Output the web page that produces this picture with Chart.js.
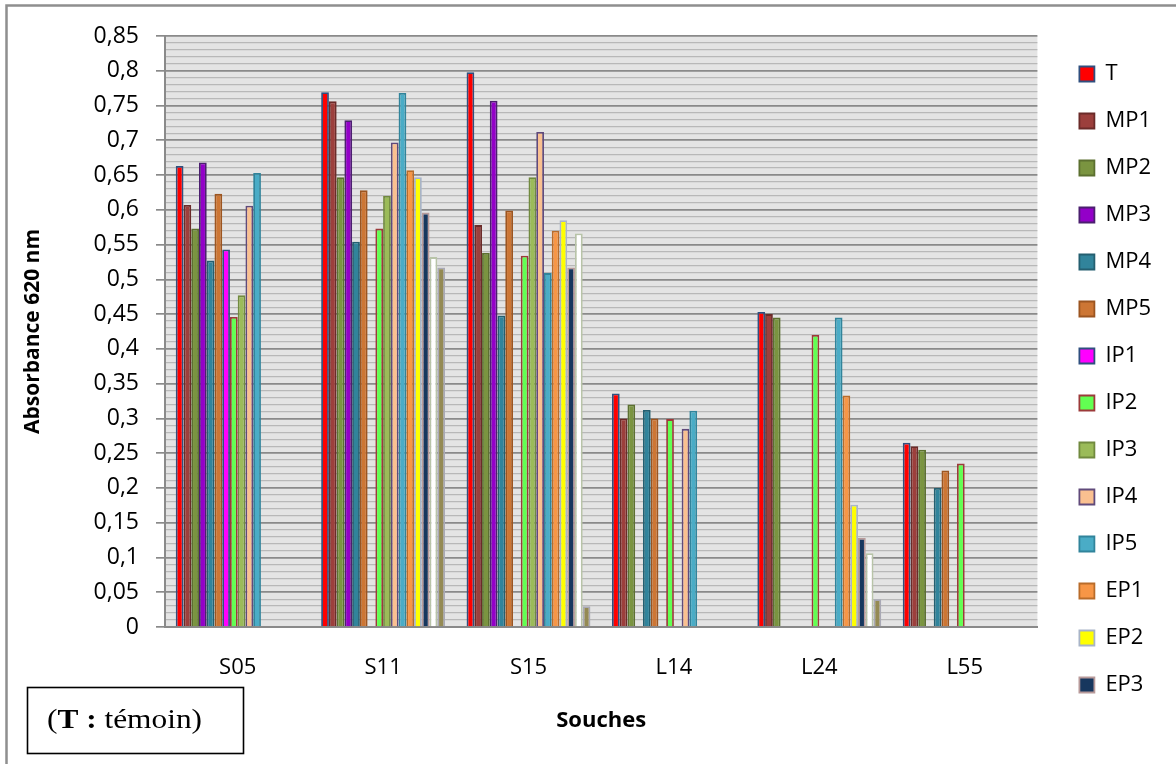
<!DOCTYPE html>
<html>
<head>
<meta charset="utf-8">
<title>Absorbance 620 nm par souche</title>
<script src="https://cdn.jsdelivr.net/npm/chart.js@4.4.1/dist/chart.umd.min.js"></script>
<style>
  html, body { margin: 0; padding: 0; background: #ffffff; }
  canvas { display: block; }
</style>
</head>
<body>
<canvas id="chart" width="1176" height="764"></canvas>
<script>
// Strains on the x axis
const souches = ['S05', 'S11', 'S15', 'L14', 'L24', 'L55'];

// Absorbance at 620 nm for each treatment (null = no bar)
const T   = [0.663, 0.769, 0.798, 0.336, 0.453, 0.265];
const MP1 = [0.607, 0.756, 0.578, 0.300, 0.450, 0.260];
const MP2 = [0.573, 0.647, 0.538, 0.320, 0.445, 0.255];
const MP3 = [0.668, 0.729, 0.757, null,  null,  null ];
const MP4 = [0.527, 0.554, 0.448, 0.312, null,  0.200];
const MP5 = [0.623, 0.628, 0.599, 0.300, null,  0.225];
const IP1 = [0.543, null,  null,  null,  null,  null ];
const IP2 = [0.446, 0.573, 0.534, 0.299, 0.420, 0.235];
const IP3 = [0.477, 0.620, 0.647, null,  null,  null ];
const IP4 = [0.606, 0.697, 0.712, 0.285, null,  null ];
const IP5 = [0.653, 0.768, 0.509, 0.311, 0.445, null ];
const EP1 = [null,  0.657, 0.570, null,  0.333, null ];
const EP2 = [null,  0.647, 0.585, null,  0.176, null ];
const EP3 = [null,  0.596, 0.517, null,  0.128, null ];
const EP4 = [null,  0.532, 0.566, null,  0.106, null ];
const EP5 = [null,  0.517, 0.030, null,  0.040, null ];

// Labels for the major y ticks (every 0.05)
const yTickLabels = ['0', '0,05', '0,1', '0,15', '0,2', '0,25', '0,3', '0,35', '0,4',
                     '0,45', '0,5', '0,55', '0,6', '0,65', '0,7', '0,75', '0,8', '0,85'];

const seriesNames = ['T', 'MP1', 'MP2', 'MP3', 'MP4', 'MP5', 'IP1', 'IP2', 'IP3',
                     'IP4', 'IP5', 'EP1', 'EP2', 'EP3', 'EP4', 'EP5'];
const seriesData = [T, MP1, MP2, MP3, MP4, MP5, IP1, IP2, IP3, IP4, IP5, EP1, EP2, EP3, EP4, EP5];

// Fill and outline colours, one per series
const fills = ['#ff0000', '#9c3f3c', '#7a9440', '#9300c8', '#31849b', '#cd7634', '#ff00ff', '#62ff52',
               '#9bbb59', '#fac090', '#4aacc6', '#f79646', '#ffff00', '#17375e', '#ffffff', '#948a54'];
const edges = ['#2f4f7f', '#6b2b29', '#5c7030', '#4b1f6f', '#245f70', '#9c5520', '#2f4f7f', '#9c3a3a',
               '#718a3f', '#604a7b', '#31849b', '#b96c2a', '#a8b4c8', '#b89a9a', '#b8c4a8', '#a9a9b5'];

// Only the first fourteen series are listed in the legend column
const legendCount = 14;

const isMajor = v => Math.round(v * 100) % 5 === 0;

Chart.defaults.font.family = "'Open Sans', sans-serif";
Chart.defaults.color = '#000000';

const plotBackground = {
  id: 'plotBackground',
  beforeDraw(chart) {
    const { ctx, chartArea: a } = chart;
    ctx.save();
    ctx.fillStyle = '#e4e4e4';
    ctx.fillRect(a.left, a.top, a.right - a.left, a.bottom - a.top);
    ctx.restore();
  }
};

const legendPlacement = {
  id: 'legendPlacement',
  afterLayout(chart) {
    const lg = chart.legend;
    const dx = chart.chartArea.right + 17 - lg.left;
    lg.left += dx; lg.right += dx;
    lg.top += 2; lg.bottom += 2;
  }
};

const frameAndNote = {
  id: 'frameAndNote',
  afterDraw(chart) {
    const ctx = chart.ctx;
    ctx.save();
    // outer frame
    ctx.strokeStyle = '#8f8f8f';
    ctx.lineWidth = 2.5;
    ctx.strokeRect(6.5, 5.5, 1200, 800);
    // note box
    ctx.strokeStyle = '#000000';
    ctx.lineWidth = 1.6;
    ctx.strokeRect(27.5, 687.5, 216, 66);
    ctx.translate(47, 721);
    ctx.scale(1.12, 1);
    ctx.fillStyle = '#000000';
    ctx.textBaseline = 'middle';
    const parts = [
      ['(', "28px 'Liberation Serif'"],
      ['T', "bold 28px 'Liberation Serif'"],
      [' : ', "bold 28px 'Liberation Serif'"],
      ['témoin)', "28px 'Liberation Serif'"]
    ];
    let x = 0;
    for (const [txt, font] of parts) {
      ctx.font = font;
      ctx.fillText(txt, x, 0);
      x += ctx.measureText(txt).width;
    }
    ctx.restore();
  }
};

new Chart(document.getElementById('chart'), {
  type: 'bar',
  data: {
    labels: souches,
    datasets: seriesNames.map((name, i) => ({
      label: name,
      data: seriesData[i],
      backgroundColor: fills[i],
      borderColor: edges[i],
      borderWidth: 1.8,
      categoryPercentage: 0.852,
      barPercentage: 1.0
    }))
  },
  options: {
    responsive: false,
    animation: false,
    layout: { padding: { top: 36, left: 10, right: 32, bottom: 29 } },
    plugins: {
      tooltip: { enabled: false },
      legend: {
        position: 'right',
        align: 'start',
        labels: {
          boxWidth: 15,
          boxHeight: 15,
          padding: 25,
          color: '#000000',
          font: { size: 22 },
          filter: item => item.datasetIndex < legendCount
        }
      }
    },
    scales: {
      x: {
        grid: { display: false, drawTicks: false },
        border: { display: true, color: '#8a8a8a', width: 2 },
        ticks: { padding: 28, font: { size: 22 }, color: '#000000' },
        title: {
          display: true,
          text: 'Souches',
          font: { size: 22, weight: 'bold' },
          color: '#000000',
          padding: { top: 0, bottom: 1 }
        },
        afterFit(scale) { scale.height = 108; }
      },
      y: {
        min: 0,
        max: 0.85,
        ticks: {
          stepSize: 0.01,
          autoSkip: false,
          padding: 17,
          font: { size: 23 },
          color: '#000000',
          callback: v => {
            const k = Math.round(v * 100);
            return k % 5 === 0 ? yTickLabels[k / 5] : '';
          }
        },
        grid: {
          color: c => (c.tick && isMajor(c.tick.value)) ? '#8a8a8a' : '#b8b8b8',
          lineWidth: c => (c.tick && isMajor(c.tick.value)) ? 1.7 : 1.3,
          tickColor: c => (c.tick && isMajor(c.tick.value)) ? '#8a8a8a' : 'rgba(0,0,0,0)',
          tickLength: 9
        },
        border: { display: true, color: '#8a8a8a', width: 2 },
        title: {
          display: true,
          text: 'Absorbance 620 nm',
          font: { size: 21, weight: 'bold' },
          color: '#000000',
          padding: { top: 10, bottom: 0 }
        },
        afterFit(scale) { scale.width = 155; }
      }
    }
  },
  plugins: [plotBackground, legendPlacement, frameAndNote]
});
</script>
</body>
</html>
